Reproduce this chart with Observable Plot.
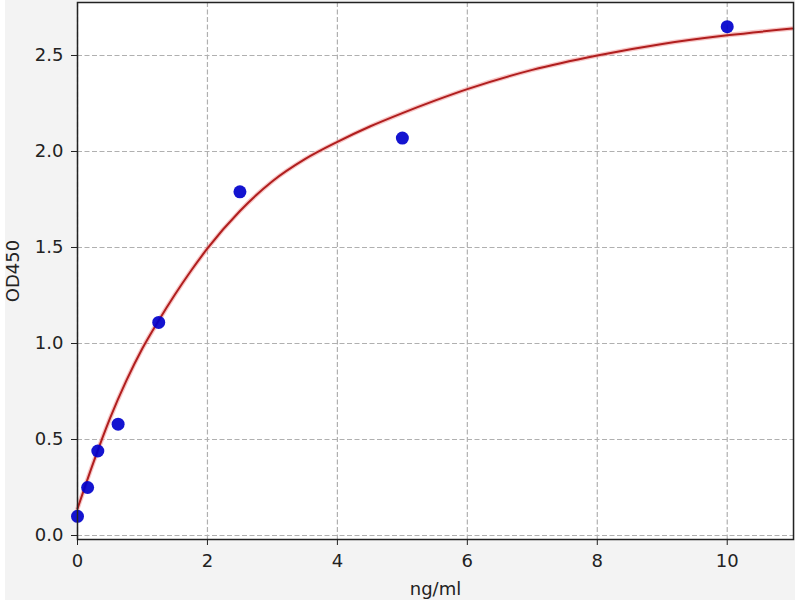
<!DOCTYPE html>
<html><head><meta charset="utf-8">
<script src="https://cdn.jsdelivr.net/npm/d3@7"></script>
<script src="https://cdn.jsdelivr.net/npm/@observablehq/plot@0.6"></script>
<style>
html,body{margin:0;padding:0;background:#fff;}
#wrap{position:relative;width:800px;height:600px;overflow:hidden;}
#bg{position:absolute;left:5px;top:0;width:790px;height:600px;background:#f3f3f3;}
#chart{position:absolute;left:0;top:0;}
</style></head><body><div id="wrap"><div id="bg"></div><div id="chart"></div></div>
<script>
// Standards (measured points)
const concentrations = [0, 0.156, 0.3125, 0.625, 1.25, 2.5, 5, 10];
const od450 = [0.10, 0.25, 0.44, 0.58, 1.11, 1.79, 2.07, 2.65];
// Fitted curve, values
const curveX = [0, 0.25, 0.5, 0.75, 1.0, 1.25, 1.5, 1.75, 2.0, 2.5, 3.0, 3.5, 4.0, 4.5, 5.0, 5.5, 6.0, 7.0, 8.0, 9.0, 10.0, 11.0];
const curveY = [0.14, 0.385, 0.61, 0.805, 0.975, 1.12, 1.255, 1.38, 1.495, 1.69, 1.845, 1.96, 2.05, 2.13, 2.20, 2.265, 2.325, 2.425, 2.50, 2.56, 2.605, 2.64];
const xTicks = [0, 2, 4, 6, 8, 10];
const yTicks = [0, 0.5, 1.0, 1.5, 2.0, 2.5];

const points = concentrations.map((c, i) => ({x: c, y: od450[i]}));
const curve = curveX.map((c, i) => ({x: c, y: curveY[i]}));

const font = "DejaVu Sans, sans-serif";
const chart = Plot.plot({
  width: 800,
  height: 600,
  marginLeft: 77,
  marginRight: 7,
  marginTop: 2,
  marginBottom: 61,
  style: {background: "transparent", fontFamily: font, fontSize: "18px", color: "#222"},
  x: {domain: [0, 11.02]},
  y: {domain: [-0.0208, 2.776]},
  marks: [
    Plot.frame({fill: "white", stroke: null}),
    Plot.gridX(xTicks, {stroke: "#b0b0b0", strokeOpacity: 1, strokeWidth: 1.2, strokeDasharray: "5,2.5"}),
    Plot.gridY(yTicks, {stroke: "#b0b0b0", strokeOpacity: 1, strokeWidth: 1.2, strokeDasharray: "5,2.5"}),
    Plot.line(curve, {x: "x", y: "y", curve: "monotone-x", stroke: "#f2a0a0", strokeWidth: 4.5, strokeOpacity: 0.6}),
    Plot.line(curve, {x: "x", y: "y", curve: "monotone-x", stroke: "#b01e1e", strokeWidth: 2}),
    Plot.dot(points, {x: "x", y: "y", r: 6.5, fill: "#0000cc", fillOpacity: 0.92, stroke: null}),
    Plot.axisX({ticks: xTicks, tickSize: 6, tickPadding: 9, tickFormat: d3.format("d"), fontSize: 18,
      label: "ng/ml", labelAnchor: "center", labelArrow: "none", labelOffset: 55}),
    Plot.axisY({ticks: yTicks, tickSize: 6, tickPadding: 8, tickFormat: d3.format(".1f"), fontSize: 18,
      label: "OD450", labelAnchor: "center", labelArrow: "none", labelOffset: 71}),
    Plot.frame({stroke: "#222", strokeWidth: 1.5})
  ]
});
document.getElementById("chart").appendChild(chart);
</script>
</body></html>
